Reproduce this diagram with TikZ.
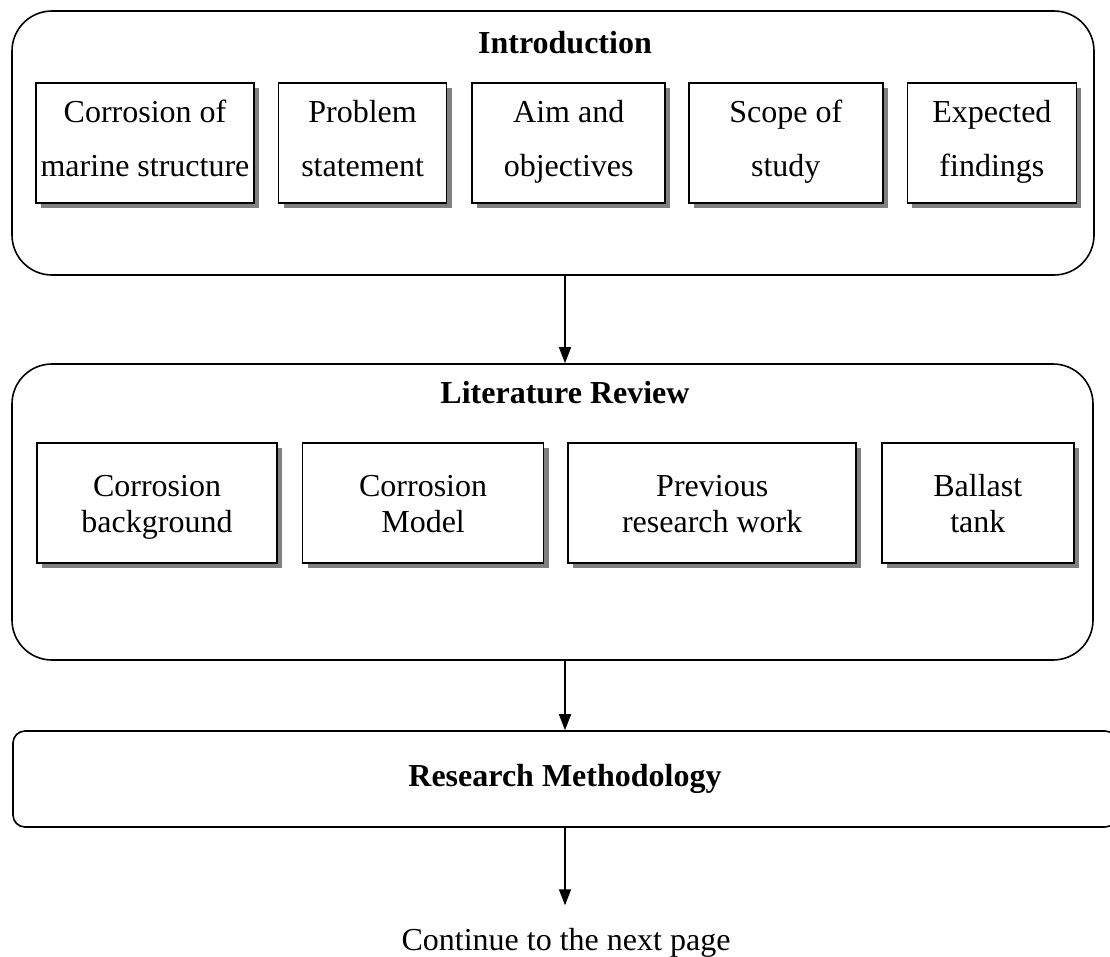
\documentclass[tikz,border=0pt]{standalone}
\usepackage{fontspec}
\setmainfont{Liberation Serif}
\usetikzlibrary{shadows, arrows.meta, positioning}

\begin{document}
\begin{tikzpicture}[x=1pt, y=-1pt, align=center,
    font=\fontsize{32}{36}\selectfont,
    node distance=23pt,
    outer/.style={draw, line width=1.6pt, rounded corners=40pt, inner sep=0pt},
    blk/.style={draw, line width=1.6pt, fill=white, minimum height=120pt, inner sep=0pt,
        drop shadow={shadow xshift=5pt, shadow yshift=-5pt, fill=gray, opacity=1}},
    iblk/.style={blk, font=\fontsize{32}{54}\selectfont, text height=76pt, text depth=9pt},
    lblk/.style={blk, font=\fontsize{32}{36}\selectfont, text height=58pt, text depth=-6pt},
    ttl/.style={font=\fontsize{32}{36}\selectfont\bfseries, anchor=base},
    arrow/.style={-{Triangle[length=16pt, width=12pt]}, line width=1.4pt}
]
    \useasboundingbox (0,0) rectangle (1110,956);
    % introduction
    \node[outer, minimum width=1082pt, minimum height=264pt] (intro) at (553,143) {};
    \node[ttl] (introttl) at (565,53) {Introduction};
    \node[iblk, minimum width=218pt] (corr) at (145,143) {Corrosion of\\marine structure};
    \node[iblk, minimum width=168pt, right=of corr] (prob) {Problem\\statement};
    \node[iblk, minimum width=193pt, right=24pt of prob] (aim) {Aim and\\objectives};
    \node[iblk, minimum width=194pt, right=22pt of aim] (scope) {Scope of\\study};
    \node[iblk, minimum width=169pt, right=of scope] (find) {Expected\\findings};
    % literature review
    \node[outer, minimum width=1081pt, minimum height=296pt] (lit) at (552.5,512) {};
    \node[ttl] (litttl) at (565,403) {Literature Review};
    \node[lblk, minimum width=240pt] (bg) at (157,503) {Corrosion\\background};
    \node[lblk, minimum width=241pt, right=24pt of bg] (model) {Corrosion\\Model};
    \node[lblk, minimum width=288pt, right=of model] (prev) {Previous\\research work};
    \node[lblk, minimum width=192pt, right=24pt of prev] (tank) {Ballast\\tank};
    % methodology
    \node[draw, line width=1.6pt, rounded corners=12pt, minimum width=1104pt, minimum height=96pt,
        font=\fontsize{32}{36}\selectfont\bfseries] (meth) at (565,779) {Research Methodology};
    \node[anchor=base] (next) at (566,950) {Continue to the next page};
    \draw[arrow] (introttl |- intro.south) -- (introttl |- lit.north);
    \draw[arrow] (introttl |- lit.south) -- (meth.north);
    \draw[arrow, shorten >=19pt] (meth.south) -- (meth.south |- next.north);
\end{tikzpicture}
\end{document}
